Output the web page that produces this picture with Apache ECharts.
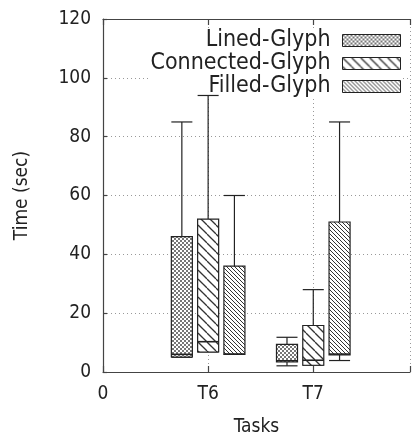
<!DOCTYPE html>
<html>
<head>
<meta charset="utf-8">
<script src="https://cdn.jsdelivr.net/npm/echarts@6/dist/echarts.min.js"></script>
<style>
html, body { margin: 0; padding: 0; background: #fff; }
#chart { width: 413px; height: 442px; }
</style>
</head>
<body>
<div id="chart"></div>
<script>
// task categories and their positions on the x axis
var tasks = ['T6', 'T7'];
var taskPos = [1, 2];
var seriesNames = ['Lined-Glyph', 'Connected-Glyph', 'Filled-Glyph'];
// [min, q1, median, q3, max] for T6 and T7
var linedStats = [[5, 5.1, 6, 46, 85], [2.1, 3.4, 3.8, 9.4, 11.8]];
var connectedStats = [[6.8, 6.8, 10.3, 52, 94], [2.3, 2.3, 4, 15.8, 28]];
var filledStats = [[6, 6, 6.1, 36, 60], [3.9, 5.8, 6.1, 51, 85]];
var yTicks = [0, 20, 40, 60, 80, 100, 120];

var offsets = [-0.25, 0, 0.25];
var boxWidth = 0.2;
var ink = '#222';

function makePattern(kind) {
  var c = document.createElement('canvas');
  var ctx;
  if (kind === 'checker') {
    c.width = 4; c.height = 4;
    ctx = c.getContext('2d');
    ctx.fillStyle = '#fff';
    ctx.fillRect(0, 0, 4, 4);
    ctx.fillStyle = '#777';
    ctx.fillRect(0, 0, 2, 2);
    ctx.fillRect(2, 2, 2, 2);
  } else {
    var s = kind === 'wide' ? 9 : 4;
    c.width = s; c.height = s;
    ctx = c.getContext('2d');
    ctx.fillStyle = '#fff';
    ctx.fillRect(0, 0, s, s);
    ctx.strokeStyle = '#333';
    ctx.lineWidth = kind === 'wide' ? 1.3 : 1;
    for (var k = -1; k <= 1; k++) {
      ctx.beginPath();
      ctx.moveTo(k * s, 0);
      ctx.lineTo(k * s + s, s);
      ctx.stroke();
    }
  }
  return { image: c, repeat: 'repeat' };
}

var patterns = [makePattern('checker'), makePattern('wide'), makePattern('fine')];
var allStats = [linedStats, connectedStats, filledStats];

function renderBox(idx) {
  return function (params, api) {
    var x = api.value(0) + offsets[idx];
    var pMin = api.coord([x, api.value(1)]);
    var pQ1 = api.coord([x, api.value(2)]);
    var pMed = api.coord([x, api.value(3)]);
    var pQ3 = api.coord([x, api.value(4)]);
    var pMax = api.coord([x, api.value(5)]);
    var left = api.coord([x - boxWidth / 2, 0])[0];
    var right = api.coord([x + boxWidth / 2, 0])[0];
    var cx = pMin[0];
    var ls = { stroke: ink, lineWidth: 1.2 };
    return {
      type: 'group',
      children: [
        { type: 'line', shape: { x1: cx, y1: pQ3[1], x2: cx, y2: pMax[1] }, style: ls },
        { type: 'line', shape: { x1: left, y1: pMax[1], x2: right, y2: pMax[1] }, style: ls },
        { type: 'line', shape: { x1: cx, y1: pQ1[1], x2: cx, y2: pMin[1] }, style: ls },
        { type: 'line', shape: { x1: left, y1: pMin[1], x2: right, y2: pMin[1] }, style: ls },
        { type: 'rect', shape: { x: left, y: pQ3[1], width: right - left, height: pQ1[1] - pQ3[1] },
          style: { fill: patterns[idx], stroke: ink, lineWidth: 1.2 } },
        { type: 'line', shape: { x1: left, y1: pMed[1], x2: right, y2: pMed[1] }, style: { stroke: ink, lineWidth: 1.6 } }
      ]
    };
  };
}

var series = seriesNames.map(function (name, i) {
  return {
    name: name,
    type: 'custom',
    silent: true,
    z: 3,
    itemStyle: { color: patterns[i], borderColor: ink },
    encode: { x: 0, y: [1, 2, 3, 4, 5] },
    renderItem: renderBox(i),
    data: allStats[i].map(function (s, j) { return [taskPos[j]].concat(s); })
  };
});

var font = '"DejaVu Sans Condensed", "DejaVu Sans", sans-serif';
var chart = echarts.init(document.getElementById('chart'));
chart.setOption({
  animation: false,
  backgroundColor: '#fff',
  grid: { left: 103, right: -2, top: 19, bottom: 64 },
  legend: {
    z: 1,
    orient: 'vertical',
    align: 'right',
    right: 12,
    top: 29,
    padding: 0,
    itemGap: 0,
    itemWidth: 58,
    itemHeight: 12,
    backgroundColor: '#fff',
    selectedMode: false,
    textStyle: { fontFamily: font, fontSize: 23, lineHeight: 22.3, color: ink, padding: [0, 7, 0, 0] },
    data: seriesNames.map(function (n, i) {
      return { name: n, icon: 'rect', itemStyle: { color: patterns[i], borderColor: ink, borderWidth: 1 } };
    })
  },
  xAxis: [{
    type: 'value',
    min: 0,
    max: 2.92,
    interval: 1,
    name: 'Tasks',
    nameLocation: 'middle',
    nameGap: 46,
    nameTextStyle: { fontFamily: font, fontSize: 19, color: ink },
    axisLine: { show: true, lineStyle: { color: '#444', width: 1.2 } },
    axisTick: { show: true, inside: true, length: 6, lineStyle: { color: '#444', width: 1.2 } },
    axisLabel: {
      margin: 13,
      fontFamily: font, fontSize: 19, color: ink,
      formatter: function (v) {
        if (v === 0) return '0';
        var k = taskPos.indexOf(v);
        return k >= 0 ? tasks[k] : '';
      }
    },
    splitLine: { show: true, lineStyle: { color: '#999', type: [1, 3], width: 1 } }
  }, {
    type: 'value',
    position: 'top',
    min: 0,
    max: 2.92,
    interval: 1,
    axisLine: { show: true, lineStyle: { color: '#444', width: 1.2 } },
    axisTick: { show: true, inside: true, length: 6, lineStyle: { color: '#444', width: 1.2 } },
    axisLabel: { show: false },
    splitLine: { show: false }
  }],
  yAxis: {
    type: 'value',
    min: yTicks[0],
    max: yTicks[yTicks.length - 1],
    interval: 20,
    name: 'Time (sec)',
    nameLocation: 'middle',
    nameGap: 71,
    nameTextStyle: { fontFamily: font, fontSize: 19, color: ink },
    axisLine: { show: true, lineStyle: { color: '#444', width: 1.2 } },
    axisTick: { show: true, inside: true, length: 4, lineStyle: { color: '#444', width: 1.2 } },
    axisLabel: { margin: 12, fontFamily: font, fontSize: 19, color: ink },
    splitLine: { show: true, lineStyle: { color: '#999', type: [1, 3], width: 1 } }
  },
  series: series
});
</script>
</body>
</html>
